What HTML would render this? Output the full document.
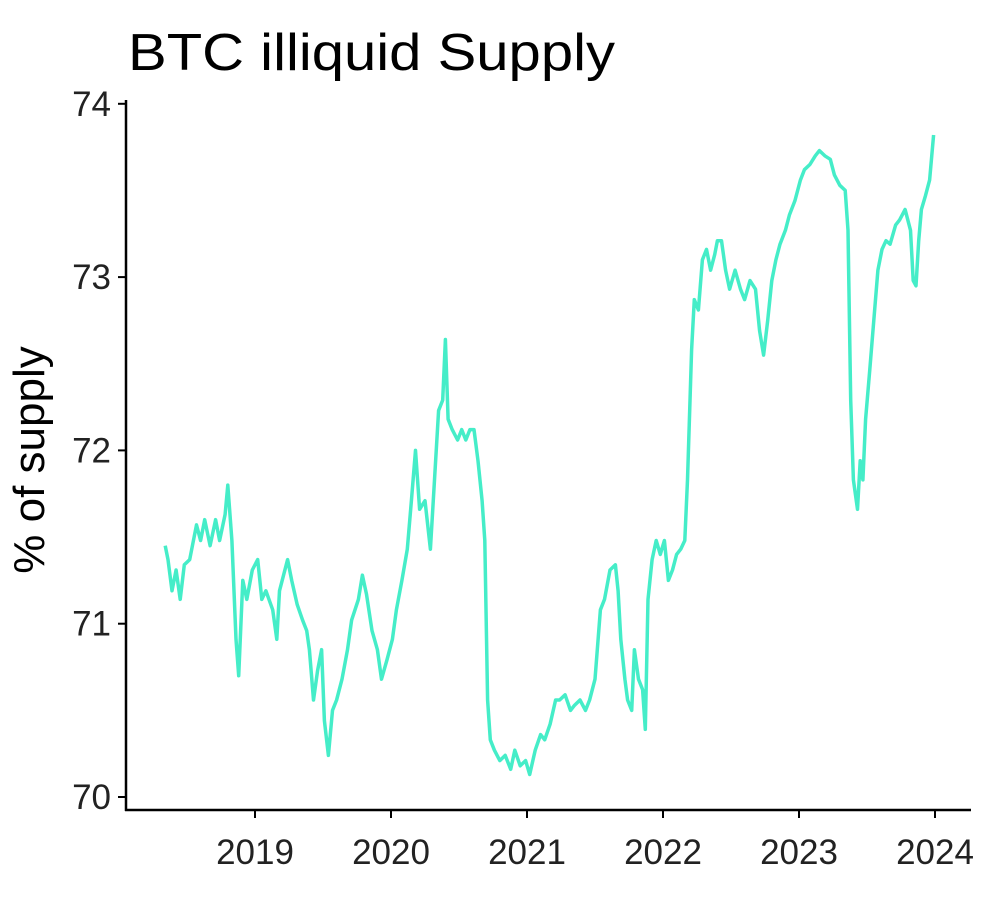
<!DOCTYPE html>
<html><head><meta charset="utf-8"><style>
html,body{margin:0;padding:0;background:#fff;}
svg{display:block;font-family:"Liberation Sans",Arial,sans-serif;}
</style></head><body>
<svg id="chart" width="1002" height="898" viewBox="0 0 1002 898">
<text x="128" y="70" font-size="52" textLength="487" lengthAdjust="spacingAndGlyphs" fill="#000">BTC illiquid Supply</text>
<text transform="translate(44,460) rotate(-90)" text-anchor="middle" font-size="44" fill="#000">% of supply</text>
<g id="axes"></g>
<g id="series"></g>
</svg>
<script>
const years = [2018.34,2018.36,2018.39,2018.42,2018.45,2018.48,2018.52,2018.57,2018.60,2018.63,2018.67,2018.71,2018.74,2018.78,2018.80,2018.83,2018.86,2018.88,2018.91,2018.94,2018.98,2019.02,2019.05,2019.08,2019.13,2019.16,2019.18,2019.24,2019.27,2019.31,2019.35,2019.38,2019.40,2019.43,2019.46,2019.49,2019.51,2019.54,2019.57,2019.60,2019.64,2019.68,2019.71,2019.76,2019.79,2019.82,2019.86,2019.90,2019.93,2019.97,2020.01,2020.04,2020.08,2020.12,2020.15,2020.18,2020.21,2020.25,2020.29,2020.32,2020.35,2020.38,2020.40,2020.42,2020.45,2020.49,2020.52,2020.55,2020.58,2020.61,2020.64,2020.67,2020.69,2020.71,2020.73,2020.76,2020.80,2020.84,2020.88,2020.91,2020.95,2020.99,2021.02,2021.06,2021.10,2021.13,2021.17,2021.21,2021.24,2021.28,2021.32,2021.35,2021.39,2021.43,2021.46,2021.50,2021.54,2021.57,2021.61,2021.65,2021.67,2021.69,2021.72,2021.74,2021.77,2021.79,2021.82,2021.85,2021.87,2021.89,2021.92,2021.95,2021.98,2022.01,2022.04,2022.07,2022.10,2022.13,2022.16,2022.18,2022.21,2022.23,2022.26,2022.29,2022.32,2022.35,2022.38,2022.40,2022.43,2022.46,2022.49,2022.53,2022.57,2022.60,2022.64,2022.68,2022.71,2022.74,2022.77,2022.80,2022.83,2022.86,2022.90,2022.93,2022.97,2023.01,2023.04,2023.08,2023.12,2023.15,2023.19,2023.23,2023.26,2023.30,2023.34,2023.36,2023.38,2023.40,2023.43,2023.45,2023.47,2023.49,2023.52,2023.55,2023.58,2023.61,2023.64,2023.67,2023.71,2023.74,2023.78,2023.82,2023.84,2023.86,2023.88,2023.90,2023.93,2023.96,2023.99];
const supply = [71.45,71.37,71.19,71.31,71.14,71.34,71.37,71.57,71.48,71.60,71.45,71.60,71.48,71.63,71.80,71.48,70.91,70.70,71.25,71.14,71.31,71.37,71.14,71.19,71.08,70.91,71.19,71.37,71.25,71.11,71.02,70.96,70.85,70.56,70.73,70.85,70.44,70.24,70.50,70.56,70.68,70.85,71.02,71.14,71.28,71.17,70.96,70.85,70.68,70.79,70.91,71.08,71.25,71.43,71.71,72.00,71.66,71.71,71.43,71.83,72.23,72.29,72.64,72.18,72.12,72.06,72.12,72.06,72.12,72.12,71.94,71.71,71.48,70.56,70.33,70.27,70.21,70.24,70.16,70.27,70.18,70.21,70.13,70.27,70.36,70.33,70.42,70.56,70.56,70.59,70.50,70.53,70.56,70.50,70.56,70.68,71.08,71.14,71.31,71.34,71.19,70.91,70.68,70.56,70.50,70.85,70.68,70.62,70.39,71.14,71.37,71.48,71.40,71.48,71.25,71.31,71.40,71.43,71.48,71.83,72.58,72.87,72.81,73.10,73.16,73.04,73.13,73.21,73.21,73.04,72.93,73.04,72.93,72.87,72.98,72.93,72.69,72.55,72.75,72.98,73.10,73.19,73.27,73.36,73.44,73.56,73.62,73.65,73.70,73.73,73.70,73.68,73.59,73.53,73.50,73.27,72.29,71.83,71.66,71.94,71.83,72.18,72.46,72.75,73.04,73.16,73.21,73.19,73.30,73.33,73.39,73.27,72.98,72.95,73.21,73.39,73.47,73.56,73.82];
const yTicks = [70,71,72,73,74];
const xTicks = [2019,2020,2021,2022,2023,2024];

const NS = "http://www.w3.org/2000/svg";
const xScale = v => 255 + (v - 2019) * 136;
const yScale = v => 797 - (v - 70) * 173.3;
const axes = document.getElementById('axes');
const series = document.getElementById('series');
function mk(tag, attrs, parent) {
  const e = document.createElementNS(NS, tag);
  for (const k in attrs) e.setAttribute(k, attrs[k]);
  parent.appendChild(e);
  return e;
}
const yAxis = mk('line', {x1:126, y1:100, x2:126, y2:811, stroke:'#000', 'stroke-width':2.5}, axes);


const xAxis = mk('line', {x1:125, y1:810, x2:971, y2:810, stroke:'#000', 'stroke-width':2.5}, axes);


yTicks.forEach(t => {
  const y = yScale(t);
  const tk = mk('line', {x1:118, y1:y, x2:126, y2:y, stroke:'#000', 'stroke-width':2}, axes);
  
  
  const lb = mk('text', {x:111, y:y + 12, 'text-anchor':'end', 'font-size':35, fill:'#222'}, axes);
  lb.textContent = t;
  
  
});
xTicks.forEach(t => {
  const x = xScale(t);
  const tk = mk('line', {x1:x, y1:810, x2:x, y2:818, stroke:'#000', 'stroke-width':2}, axes);
  
  
  const lb = mk('text', {x:x, y:864, 'text-anchor':'middle', 'font-size':35, fill:'#222'}, axes);
  lb.textContent = t;
  
  
});
const d = years.map((yr, i) => (i ? 'L' : 'M') + xScale(yr).toFixed(1) + ',' + yScale(supply[i]).toFixed(1)).join(' ');
const line = mk('path', {d:d, fill:'none', stroke:'#45EDC8', 'stroke-width':3.5, 'stroke-linejoin':'round'}, series);


</script>
</body></html>
